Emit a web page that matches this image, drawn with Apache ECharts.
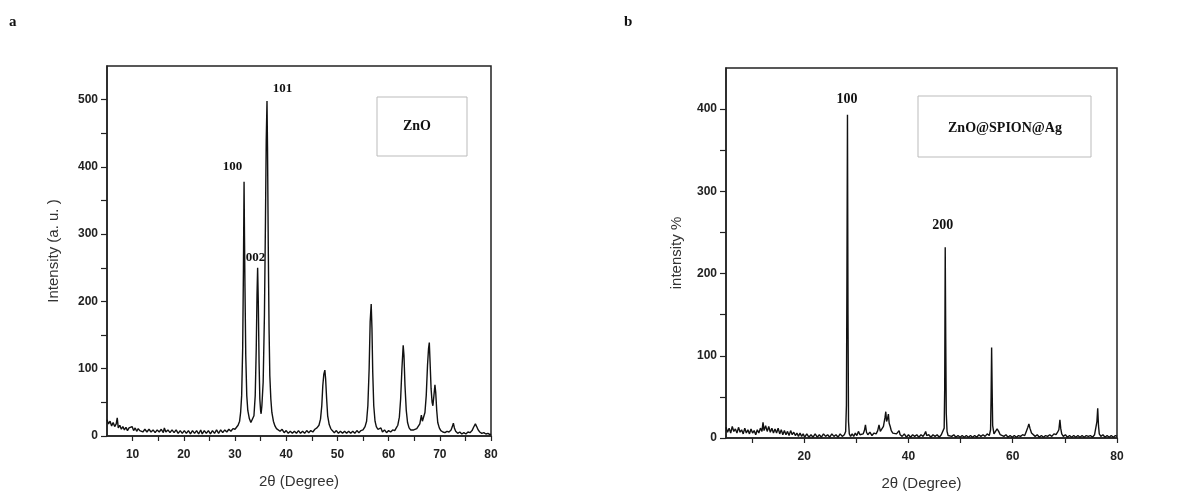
<!DOCTYPE html>
<html>
<head>
<meta charset="utf-8">
<script src="https://cdn.jsdelivr.net/npm/echarts@6/dist/echarts.min.js"></script>
<style>html,body{margin:0;padding:0;background:#fff;}#c{width:1192px;height:491px;}</style>
</head>
<body>
<div id="c"></div>
<script>
// ---- Panel a: ZnO  [2θ, intensity]
const znoPattern = [[5,24],[5.3,18],[5.6,22],[5.9,15],[6.2,20],[6.5,14],[6.8,18],[7.0,27],[7.2,12],[7.5,16],[7.8,10],[8.1,14],[8.4,9],[8.7,13],[9.0,8],[9.3,12],[9.6,10],[9.9,14],[10.2,8],[10.5,12],[10.8,7],[11.1,11],[11.4,8],[11.7,10],[12,6],[12.4,10],[12.8,6],[13.2,10],[13.6,6],[14,9],[14.4,5],[14.8,9],[15.2,6],[15.6,10],[16,5],[16.2,12],[16.5,6],[16.9,9],[17.3,5],[17.7,9],[18.1,5],[18.5,9],[18.9,4],[19.3,8],[19.7,4],[20.1,8],[20.5,4],[20.9,8],[21.3,3],[21.7,8],[22.1,4],[22.5,8],[22.9,3],[23.3,9],[23.6,3],[24,8],[24.4,4],[24.8,8],[25.2,3],[25.6,8],[26,4],[26.4,9],[26.8,4],[27.2,9],[27.6,5],[28,9],[28.4,6],[28.8,10],[29.2,7],[29.6,11],[30,10],[30.3,13],[30.6,16],[30.9,22],[31.1,35],[31.3,60],[31.5,130],[31.65,250],[31.77,378],[31.85,300],[31.95,220],[32.1,120],[32.3,60],[32.5,38],[32.8,26],[33.1,20],[33.4,22],[33.7,30],[33.95,60],[34.15,130],[34.3,210],[34.42,250],[34.55,200],[34.7,110],[34.85,55],[35.0,38],[35.1,33],[35.25,45],[35.5,80],[35.75,180],[35.95,320],[36.1,440],[36.25,498],[36.35,430],[36.5,280],[36.65,160],[36.8,90],[37.0,55],[37.2,35],[37.5,22],[37.8,15],[38.1,11],[38.4,9],[38.8,7],[39.2,10],[39.6,5],[40,8],[40.4,4],[40.8,7],[41.2,4],[41.6,7],[42,4],[42.4,8],[42.8,4],[43.2,7],[43.6,4],[44,8],[44.4,5],[44.8,8],[45.2,6],[45.6,10],[46,12],[46.4,16],[46.7,25],[46.95,45],[47.15,75],[47.35,92],[47.55,98],[47.7,85],[47.9,55],[48.1,30],[48.4,17],[48.7,11],[49,8],[49.4,5],[49.8,8],[50.2,4],[50.6,7],[51,4],[51.4,7],[51.8,4],[52.2,7],[52.6,4],[53,7],[53.4,4],[53.8,8],[54.2,5],[54.6,8],[55,9],[55.4,14],[55.7,22],[55.95,45],[56.2,100],[56.4,170],[56.6,196],[56.75,160],[56.9,95],[57.1,45],[57.35,22],[57.6,14],[57.9,10],[58.2,8],[58.5,12],[58.8,6],[59.2,9],[59.6,5],[60,8],[60.4,6],[60.8,9],[61.2,8],[61.5,12],[61.8,16],[62.1,28],[62.35,55],[62.6,100],[62.85,135],[63.0,120],[63.2,75],[63.45,38],[63.7,20],[64,12],[64.3,9],[64.6,7],[64.9,9],[65.2,8],[65.5,11],[65.8,13],[66.1,18],[66.4,31],[66.6,22],[66.85,22],[67.1,35],[67.35,60],[67.6,105],[67.8,130],[67.95,139],[68.1,110],[68.3,70],[68.5,50],[68.65,45],[68.85,60],[69.05,76],[69.2,65],[69.4,38],[69.6,20],[69.9,12],[70.2,8],[70.6,6],[71,5],[71.4,7],[71.8,6],[72.2,9],[72.45,14],[72.65,19],[72.85,12],[73.1,7],[73.5,4],[73.9,6],[74.3,3],[74.7,5],[75.1,3],[75.5,6],[75.9,5],[76.3,8],[76.6,13],[76.95,18],[77.2,14],[77.5,9],[77.8,6],[78.2,4],[78.6,5],[79,3],[79.4,4],[79.8,2],[80,3]];

// ---- Panel b: ZnO@SPION@Ag  [2θ, intensity]
const compositePattern = [[5,13],[5.3,7],[5.6,12],[5.9,6],[6.2,14],[6.5,8],[6.8,11],[7.1,6],[7.4,13],[7.7,7],[8,10],[8.3,5],[8.6,12],[8.9,6],[9.2,10],[9.5,5],[9.8,11],[10.1,6],[10.4,9],[10.7,4],[11,10],[11.3,6],[11.6,12],[11.9,8],[12.1,19],[12.3,9],[12.6,15],[12.9,8],[13.2,14],[13.5,7],[13.8,12],[14.1,6],[14.4,11],[14.7,6],[15,12],[15.3,5],[15.6,10],[15.9,4],[16.2,9],[16.5,4],[16.8,8],[17.1,3],[17.4,9],[17.7,4],[18,7],[18.3,3],[18.6,6],[18.9,2],[19.2,6],[19.5,2],[19.8,5],[20.1,1],[20.5,5],[20.9,1],[21.3,4],[21.7,1],[22.1,5],[22.5,1],[22.9,4],[23.3,1],[23.7,5],[24.1,2],[24.5,4],[24.9,1],[25.3,5],[25.7,2],[26.1,4],[26.5,1],[26.9,5],[27.3,2],[27.7,4],[27.95,8],[28.1,40],[28.2,200],[28.3,393],[28.4,150],[28.5,20],[28.65,5],[28.9,2],[29.2,5],[29.5,2],[29.8,6],[30.1,3],[30.4,8],[30.7,4],[31,6],[31.3,5],[31.55,9],[31.75,16],[31.95,7],[32.2,4],[32.6,7],[33,3],[33.4,6],[33.8,5],[34.1,9],[34.35,16],[34.6,8],[34.9,11],[35.2,14],[35.5,25],[35.65,32],[35.8,20],[36.0,24],[36.15,29],[36.3,18],[36.5,14],[36.7,9],[37,6],[37.3,4],[37.7,5],[38,3],[38.2,9],[38.4,4],[38.8,2],[39.2,5],[39.6,1],[40,4],[40.4,1],[40.8,4],[41.2,2],[41.6,4],[42,1],[42.4,4],[42.8,2],[43.1,5],[43.3,8],[43.5,3],[43.9,4],[44.3,1],[44.7,4],[45.1,2],[45.5,4],[45.9,1],[46.3,4],[46.6,3],[46.85,12],[46.95,60],[47.05,232],[47.15,120],[47.25,30],[47.4,8],[47.6,3],[47.9,5],[48.3,2],[48.7,4],[49.1,1],[49.5,3],[49.9,1],[50.3,3],[50.7,1],[51.1,3],[51.5,1],[51.9,3],[52.3,1],[52.7,3],[53.1,1],[53.5,4],[53.9,2],[54.3,4],[54.7,2],[55.1,5],[55.5,3],[55.75,10],[55.85,50],[55.95,110],[56.05,60],[56.15,15],[56.4,5],[56.7,8],[57,11],[57.3,8],[57.6,4],[57.9,6],[58.3,2],[58.7,4],[59.1,1],[59.5,3],[59.9,1],[60.3,3],[60.7,1],[61.1,3],[61.5,2],[61.9,4],[62.3,3],[62.6,8],[62.9,13],[63.1,17],[63.3,12],[63.6,6],[63.9,4],[64.3,2],[64.7,4],[65.1,1],[65.5,3],[65.9,1],[66.3,3],[66.7,2],[67.1,4],[67.5,2],[67.9,5],[68.3,4],[68.6,7],[68.85,10],[69.05,22],[69.2,12],[69.4,5],[69.7,2],[70.1,4],[70.5,1],[70.9,3],[71.3,1],[71.7,3],[72.1,1],[72.5,3],[72.9,1],[73.3,3],[73.7,1],[74.1,3],[74.5,2],[74.9,3],[75.3,1],[75.7,4],[76.0,6],[76.15,20],[76.3,36],[76.45,15],[76.6,5],[76.9,2],[77.3,4],[77.7,1],[78.1,3],[78.5,1],[78.9,3],[79.3,1],[79.7,3],[80,2]];

// Peak (hkl) annotations: [label, 2θ, intensity] for label centre
const znoPeakLabels = [['100', 29.5, 400], ['002', 34.0, 265], ['101', 39.3, 516]];
const compositePeakLabels = [['100', 28.2, 412], ['200', 46.6, 258]];

// Tick values / labels
const xTicksA = [10,15,20,25,30,35,40,45,50,55,60,65,70,75,80];
const xLabelsA = [10,20,30,40,50,60,70,80];
const yTicksA = [0,50,100,150,200,250,300,350,400,450,500];
const yLabelsA = [0,100,200,300,400,500];
const xTicksB = [10,20,30,40,50,60,70,80];
const xLabelsB = [20,40,60,80];
const yTicksB = [0,50,100,150,200,250,300,350,400];
const yLabelsB = [0,100,200,300,400];

const sansFont = '"Liberation Sans", Arial, sans-serif';
const serifFont = '"Liberation Serif", "Times New Roman", serif';

function xAxisCfg(gridIndex, ticks, labels, name) {
  return {
    type: 'value', gridIndex, min: 5, max: 80,
    name, nameLocation: 'middle', nameGap: 38,
    nameTextStyle: { fontFamily: sansFont, fontSize: 15, color: '#333' },
    axisLine: { show: true, onZero: false, lineStyle: { color: '#222', width: 1.5 } },
    axisTick: { show: true, inside: false, length: 5, customValues: ticks, lineStyle: { color: '#222', width: 1.2 } },
    axisLabel: { customValues: labels, margin: 13, fontFamily: sansFont, fontWeight: 'bold', fontSize: 12, color: '#222' },
    splitLine: { show: false }
  };
}
function yAxisCfg(gridIndex, max, ticks, labels, name, gap) {
  return {
    type: 'value', gridIndex, min: 0, max,
    name, nameLocation: 'middle', nameGap: gap, nameRotate: 90,
    nameTextStyle: { fontFamily: sansFont, fontSize: 15, color: '#333' },
    axisLine: { show: true, lineStyle: { color: '#222', width: 1.5 } },
    axisTick: { show: true, inside: false, length: 6, customValues: ticks, lineStyle: { color: '#222', width: 1.2 } },
    axisLabel: { customValues: labels, margin: 9, fontFamily: sansFont, fontWeight: 'bold', fontSize: 12, color: '#222' },
    splitLine: { show: false }
  };
}
function peakMarks(list, size) {
  return {
    symbol: 'circle', symbolSize: 0, silent: true,
    label: { show: true, position: 'inside', formatter: '{b}', fontFamily: serifFont, fontWeight: 'bold', fontSize: size, color: '#111' },
    data: list.map(p => ({ name: p[0], coord: [p[1], p[2]] }))
  };
}

const chart = echarts.init(document.getElementById('c'), null, { renderer: 'canvas' });
chart.setOption({
  animation: false,
  backgroundColor: '#fff',
  grid: [
    { left: 107, top: 66, width: 384, height: 370, outerBoundsMode: 'none', containLabel: false, show: true, borderColor: '#222', borderWidth: 1.5, backgroundColor: 'transparent' },
    { left: 726, top: 68, width: 391, height: 370, outerBoundsMode: 'none', containLabel: false, show: true, borderColor: '#222', borderWidth: 1.5, backgroundColor: 'transparent' }
  ],
  xAxis: [
    xAxisCfg(0, xTicksA, xLabelsA, '2θ (Degree)'),
    xAxisCfg(1, xTicksB, xLabelsB, '2θ (Degree)')
  ],
  yAxis: [
    yAxisCfg(0, 550, yTicksA, yLabelsA, 'Intensity (a. u. )', 46),
    yAxisCfg(1, 450, yTicksB, yLabelsB, 'intensity %', 42)
  ],
  series: [
    { type: 'line', name: 'ZnO', xAxisIndex: 0, yAxisIndex: 0, data: znoPattern, showSymbol: false, symbol: 'none',
      lineStyle: { color: '#111', width: 1.4 }, markPoint: peakMarks(znoPeakLabels, 13) },
    { type: 'line', name: 'ZnO@SPION@Ag', xAxisIndex: 1, yAxisIndex: 1, data: compositePattern, showSymbol: false, symbol: 'none',
      lineStyle: { color: '#111', width: 1.4 }, markPoint: peakMarks(compositePeakLabels, 14) }
  ],
  graphic: [
    { type: 'text', left: 9, top: 15, style: { text: 'a', font: 'bold 15px ' + serifFont, fill: '#111' } },
    { type: 'text', left: 624, top: 15, style: { text: 'b', font: 'bold 15px ' + serifFont, fill: '#111' } },
    { type: 'rect', shape: { x: 377, y: 97, width: 90, height: 59 }, style: { fill: 'none', stroke: '#bbb', lineWidth: 1 } },
    { type: 'text', x: 417, y: 126, style: { text: 'ZnO', font: 'bold 14px ' + serifFont, fill: '#111', align: 'center', verticalAlign: 'middle' } },
    { type: 'rect', shape: { x: 918, y: 96, width: 173, height: 61 }, style: { fill: 'none', stroke: '#bbb', lineWidth: 1 } },
    { type: 'text', x: 1005, y: 128, style: { text: 'ZnO@SPION@Ag', font: 'bold 14px ' + serifFont, fill: '#111', align: 'center', verticalAlign: 'middle' } }
  ]
});
</script>
</body>
</html>
